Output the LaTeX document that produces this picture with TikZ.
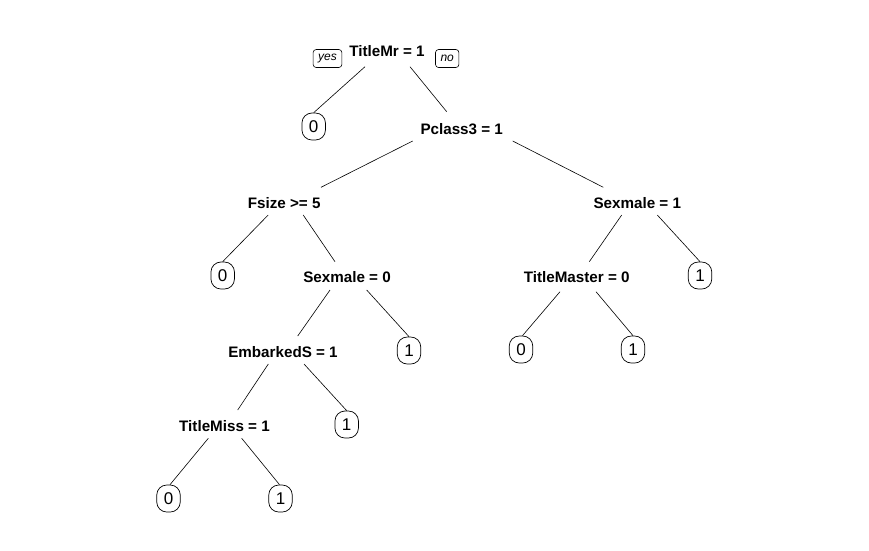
\documentclass[tikz,border=0pt]{standalone}
\usepackage{fontspec}
\setmainfont{Liberation Sans}
\usetikzlibrary{calc}
\begin{document}
\begin{tikzpicture}[x=1pt,y=-1pt,
  split/.style={anchor=base, inner sep=0pt, font=\fontsize{15.2}{18}\selectfont\bfseries},
  leaf/.style={draw, line width=0.7pt, rounded corners=10pt, minimum width=23.5pt, minimum height=27pt, inner sep=0pt, font=\fontsize{17}{20}\selectfont},
  yn/.style={draw, line width=0.6pt, rounded corners=3pt, minimum height=18pt, inner xsep=5pt, inner ysep=0pt, font=\fontsize{12}{14}\selectfont\itshape},
  edge/.style={line width=0.6pt}]
\useasboundingbox (0,0) rectangle (869,550);
\fill[white] (0,0) rectangle (869,550);

% split nodes (positioned at baseline centre)
\node[split] (root) at (387,56) {TitleMr = 1};
\node[split] (pc)   at (461.7,134) {Pclass3 = 1};
\node[split] (fs)   at (284.2,208.3) {Fsize >= 5};
\node[split] (sm1)  at (637.3,208.3) {Sexmale = 1};
\node[split] (sm0)  at (347,282.7) {Sexmale = 0};
\node[split] (tm)   at (576.7,282.7) {TitleMaster = 0};
\node[split] (es)   at (283,357.3) {EmbarkedS = 1};
\node[split] (tmi)  at (224.5,431.5) {TitleMiss = 1};

% yes / no
\node[yn] (yes) at (327.5,58.5) {yes};
\node[yn] (no)  at (447.2,58.5) {no};

% leaves
\node[leaf] (La) at (313.7,126.5) {0};
\node[leaf] (Lb) at (222.7,275.5) {0};
\node[leaf] (Lc) at (409,350.5) {1};
\node[leaf] (Ld) at (521,349.5) {0};
\node[leaf] (Le) at (633,349.5) {1};
\node[leaf] (Lf) at (700,275.5) {1};
\node[leaf] (Lg) at (346.7,424.5) {1};
\node[leaf] (Lh) at (168.5,498.5) {0};
\node[leaf] (Li) at (280.5,498.5) {1};

% edges
\draw[edge] ($(root.base)+(-22,10.7)$) -- (La.north);
\draw[edge] ($(root.base)+(23,10.7)$) -- ($(pc.base)+(-15,-22.3)$);
\draw[edge] ($(pc.base)+(-49,7)$) -- ($(fs.base)+(36.8,-21)$);
\draw[edge] ($(pc.base)+(51,7)$) -- ($(sm1.base)+(-34,-21)$);
\draw[edge] ($(fs.base)+(-16,6.7)$) -- (Lb.north);
\draw[edge] ($(fs.base)+(19,6.7)$) -- ($(sm0.base)+(-12,-21)$);
\draw[edge] ($(sm1.base)+(-15.6,6.7)$) -- ($(tm.base)+(12.6,-21)$);
\draw[edge] ($(sm1.base)+(20,6.7)$) -- (Lf.north);
\draw[edge] ($(sm0.base)+(-17,7.3)$) -- ($(es.base)+(14.7,-21.3)$);
\draw[edge] ($(sm0.base)+(19.7,7.3)$) -- (Lc.north);
\draw[edge] ($(tm.base)+(-16.7,9)$) -- ($(Ld.north)+(1.5,0)$);
\draw[edge] ($(tm.base)+(19.3,9)$) -- (Le.north);
\draw[edge] ($(es.base)+(-14.7,6.7)$) -- ($(tmi.base)+(13.2,-21.5)$);
\draw[edge] ($(es.base)+(21,6.7)$) -- (Lg.north);
\draw[edge] ($(tmi.base)+(-16.2,6.8)$) -- ($(Lh.north)+(1.5,0)$);
\draw[edge] ($(tmi.base)+(17.2,6.8)$) -- ($(Li.north)+(-1,0)$);
\end{tikzpicture}
\end{document}
